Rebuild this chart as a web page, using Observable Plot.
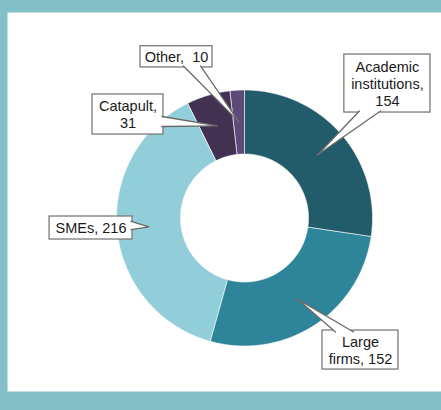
<!DOCTYPE html>
<html>
<head>
<meta charset="utf-8">
<script src="https://cdn.jsdelivr.net/npm/d3@7"></script>
<script src="https://cdn.jsdelivr.net/npm/@observablehq/plot@0.6"></script>
<style>
  html, body { margin: 0; padding: 0; background: #82bfc6; }
  #chart svg { display: block; }
</style>
</head>
<body>
<div id="chart"></div>
<script>
// ---- data ----
const categories = ["Academic institutions", "Large firms", "SMEs", "Catapult", "Other"];
const values = [154, 152, 216, 31, 10];
const labelTexts = ["Academic\ninstitutions,\n154", "Large\nfirms, 152", "SMEs, 216", "Catapult,\n31", "Other,  10"];
const colors = ["#225b6a", "#2e8599", "#92cdda", "#433152", "#5d4a7b"];

// ---- layout (chart units: outer radius = 1, centre = 0,0) ----
const innerR = 0.5, outerR = 1, tipR = 0.75;
// box: [x1, x2, y1(top), y2(bottom)], base: side and two points of the callout wedge base
const boxes = [
  {box: [0.78, 1.453, 1.277, 0.824], side: "bottom", base: [0.898, 1.0625]},
  {box: [0.609, 1.203, -0.879, -1.184], side: "top", base: [0.711, 0.852]},
  {box: [-1.523, -0.875, 0.0117, -0.168], side: "right", base: [-0.027, -0.09]},
  {box: [-1.1875, -0.633, 0.965, 0.652], side: "right", base: [0.793, 0.715]},
  {box: [-0.8125, -0.25, 1.342, 1.176], side: "bottom", base: [-0.477, -0.344]}
];

const W = 441, H = 410;
const mL = 7, mR = 0, mT = 12, mB = 19;
const cx = 244, cy = 217.5, k = 128; // pixel centre and px per unit

// ---- slices via d3.pie ----
const pie = d3.pie().sort(null).value(d => d)(values);
const slicePts = [];
pie.forEach((p, i) => {
  const a0 = p.startAngle, a1 = p.endAngle;
  const n = Math.max(2, Math.ceil((a1 - a0) / (Math.PI / 360)));
  for (let j = 0; j <= n; j++) {
    const a = a0 + (a1 - a0) * j / n;
    slicePts.push({cat: categories[i], x: outerR * Math.sin(a), y: outerR * Math.cos(a)});
  }
  for (let j = n; j >= 0; j--) {
    const a = a0 + (a1 - a0) * j / n;
    slicePts.push({cat: categories[i], x: innerR * Math.sin(a), y: innerR * Math.cos(a)});
  }
});

// ---- callouts ----
const wedgePts = [];
const rects = [];
const texts = [];
const inset = 0.012;
pie.forEach((p, i) => {
  const mid = (p.startAngle + p.endAngle) / 2;
  const tip = {x: tipR * Math.sin(mid), y: tipR * Math.cos(mid)};
  const b = boxes[i];
  const [x1, x2, y1, y2] = b.box;
  let b1, b2;
  if (b.side === "bottom") { b1 = {x: b.base[0], y: y2 + inset}; b2 = {x: b.base[1], y: y2 + inset}; }
  else if (b.side === "top") { b1 = {x: b.base[0], y: y1 - inset}; b2 = {x: b.base[1], y: y1 - inset}; }
  else if (b.side === "right") { b1 = {x: x2 - inset, y: b.base[0]}; b2 = {x: x2 - inset, y: b.base[1]}; }
  else { b1 = {x: x1 + inset, y: b.base[0]}; b2 = {x: x1 + inset, y: b.base[1]}; }
  wedgePts.push({cat: categories[i], ...b1}, {cat: categories[i], ...tip}, {cat: categories[i], ...b2});
  rects.push({cat: categories[i], x1, x2, y1, y2});
  texts.push({label: labelTexts[i], x: (x1 + x2) / 2, y: (y1 + y2) / 2});
});

const chart = Plot.plot({
  width: W,
  height: H,
  marginLeft: mL, marginRight: mR, marginTop: mT, marginBottom: mB,
  style: {background: "#82bfc6", fontFamily: "'Liberation Sans', Arial, sans-serif"},
  x: {domain: [(mL - cx) / k, (W - mR - cx) / k], axis: null},
  y: {domain: [(cy - (H - mB)) / k, (cy - mT) / k], axis: null},
  color: {domain: categories, range: colors},
  marks: [
    Plot.frame({fill: "white", stroke: "none"}),
    Plot.line(slicePts, {x: "x", y: "y", z: "cat", fill: "cat", stroke: "white", strokeWidth: 0.6, curve: "linear-closed"}),
    Plot.rect(rects, {x1: "x1", x2: "x2", y1: "y1", y2: "y2", fill: "white", stroke: "#7a7a7a", strokeWidth: 1.3}),
    Plot.line(wedgePts, {x: "x", y: "y", z: "cat", fill: "white", stroke: "#6a6a6a", strokeWidth: 1.3, curve: "linear"}),
    Plot.text(texts, {x: "x", y: "y", text: "label", fontSize: 14.5, lineHeight: 1.17, fill: "#1a1a1a", textAnchor: "middle", lineAnchor: "middle"})
  ]
});
document.getElementById("chart").appendChild(chart);
</script>
</body>
</html>
